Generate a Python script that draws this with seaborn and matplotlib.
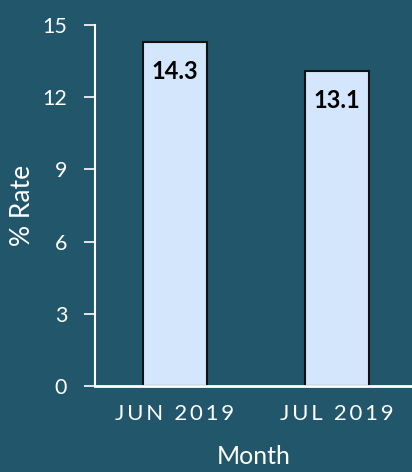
import matplotlib
matplotlib.use("Agg")
import matplotlib.pyplot as plt
import seaborn as sns
import pandas as pd

months = ["JUN 2019", "JUL 2019"]
rates = [14.3, 13.1]
yticks = [0, 3, 6, 9, 12, 15]

BG = "#22566a"
BAR = "#d4e6fc"

sns.set_theme(style="white")
plt.rcParams['font.family'] = ['Lato', 'DejaVu Sans']

df = pd.DataFrame({"Month": months, "Rate": rates})

fig = plt.figure(figsize=(4.12, 4.72), dpi=100, facecolor=BG)
ax = fig.add_axes([0.2306, 0.1822, 0.7694, 0.7650])
ax.set_facecolor(BG)

sns.barplot(data=df, x="Month", y="Rate", color=BAR, edgecolor="#111111",
            linewidth=1.5, width=0.395, saturation=1, ax=ax)

ax.set_xlim(-0.494, 1.463)
ax.set_ylim(0, 15)
ax.set_yticks(yticks)
ax.set_yticklabels([str(t) for t in yticks])

for s in ["top", "right"]:
    ax.spines[s].set_visible(False)
ax.spines["left"].set_color("white")
ax.spines["left"].set_linewidth(1.5)
ax.spines["bottom"].set_color("white")
ax.spines["bottom"].set_linewidth(2)
ax.spines["bottom"].set_zorder(5)

ax.tick_params(axis="y", colors="white", length=8, width=1.2, labelsize=15.5, pad=12, left=True)
ax.tick_params(axis="x", length=0, pad=13, colors="white")
spaced = ["\u2009".join(list(m)) for m in months]
ax.set_xticks(range(len(months)))
ax.set_xticklabels(spaced, fontsize=16)

ax.set_ylabel("% Rate", color="white", fontsize=19, labelpad=5)
ax.set_xlabel("Month", color="white", fontsize=18, labelpad=15)

for i, v in enumerate(rates):
    ax.text(i, v - 1.25, f"{v}", ha="center", va="center", fontsize=17,
            fontweight="bold", color="black")

fig.savefig("out.png", dpi=100, facecolor=BG)
